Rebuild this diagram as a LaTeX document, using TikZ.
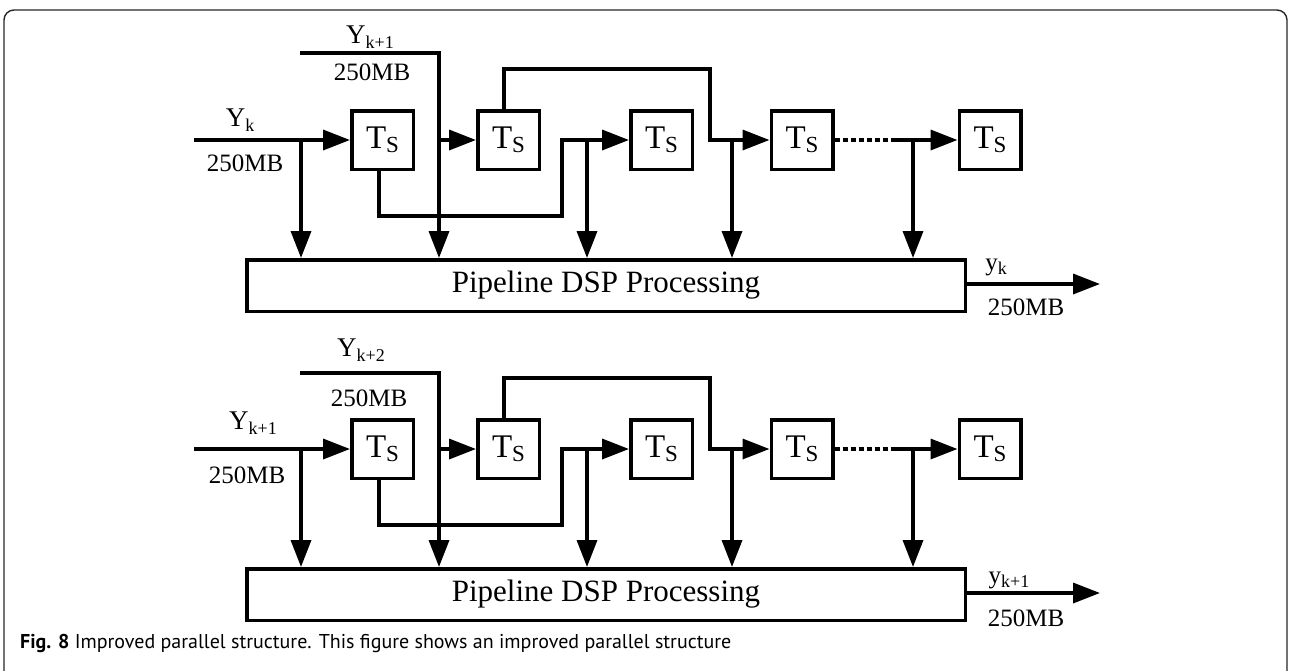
\documentclass[tikz,border=0pt]{standalone}
\usepackage{fontspec}
\setmainfont{Liberation Serif}
\newfontfamily\capfont{PT Sans}
\usetikzlibrary{arrows.meta}
\newcommand{\sbs}[1]{\raisebox{-0.35ex}{\fontsize{18}{18}\selectfont #1}}
\begin{document}
\begin{tikzpicture}[x=1pt,y=-1pt,
  wire/.style={line width=3.5pt},
  arr/.style={wire,-{Triangle[length=27pt,width=20pt]}},
  tsbox/.style={draw,line width=3.5pt,minimum width=61.5pt,minimum height=58.5pt,inner sep=0pt,font=\fontsize{33}{33}\selectfont},
  pipe/.style={draw,line width=3.5pt,minimum width=718.5pt,minimum height=51.5pt,inner sep=0pt,font=\fontsize{31}{31}\selectfont},
  lbl/.style={font=\fontsize{25}{25}\selectfont,inner sep=0pt},
  frame/.style={line width=1.4pt,draw=black!85,rounded corners=10pt}]
\useasboundingbox (0,0) rectangle (1290,670);
\draw[frame] (4,678) -- (4,10) -- (1287,10) -- (1287,678);
\newcommand{\ts}{T\raisebox{-0.25ex}{\fontsize{23}{23}\selectfont S}}
% ---------- two diagrams ----------
\foreach \s/\dy/\da in {A/0/0, B/309/11}{
\begin{scope}[shift={(0,\dy)}]
  \node[tsbox] (b1\s) at (382.5,140) {\ts};
  \node[tsbox] (b2\s) at (508.5,140) {\ts};
  \node[tsbox] (b3\s) at (661.5,140) {\ts};
  \node[tsbox] (b4\s) at (802,140) {\ts};
  \node[tsbox] (b5\s) at (990,140) {\ts};
  \node[pipe] (p\s) at (606,285.5) {Pipeline DSP Processing};
  \coordinate (in\s) at (194,140);
  \coordinate (ja\s) at (301,140);
  \coordinate (s2\s) at (300,53+\da);
  \coordinate (c2\s) at (439,53+\da);
  \coordinate (jb\s) at (439,140);
  \coordinate (r1\s) at (562,216);
  \coordinate (jc\s) at (587,140);
  \coordinate (r2\s) at (710,69);
  \coordinate (jd\s) at (732,140);
  \coordinate (dd\s) at (895,140);
  \coordinate (je\s) at (913,140);
  \coordinate (out\s) at (1100,284);
  \draw[arr] (in\s) -- (b1\s.west);
  \draw[arr] (ja\s) -- (ja\s |- p\s.north);
  \draw[arr] (s2\s) -- (c2\s) -- (c2\s |- p\s.north);
  \draw[arr] (jb\s) -- (b2\s.west);
  \draw[arr] ([xshift=-3.5pt]b1\s.south) |- (r1\s) |- (b3\s.west);
  \draw[arr] (jc\s) -- (jc\s |- p\s.north);
  \draw[arr] ([xshift=-4.5pt]b2\s.north) |- (r2\s) |- (b4\s.west);
  \draw[arr] (jd\s) -- (jd\s |- p\s.north);
  \draw[wire,dash pattern=on 5pt off 3pt] (b4\s.east) -- (dd\s);
  \draw[arr] (dd\s) -- (b5\s.west);
  \draw[arr] (je\s) -- (je\s |- p\s.north);
  \draw[arr] (p\s.east |- out\s) -- (out\s);
\end{scope}
}
% ---------- labels ----------
\node[lbl,font=\fontsize{27}{27}\selectfont] (lyk) at (240,120) {Y\sbs{k}};
\node[lbl] (lmb1) at (245,163) {250MB};
\node[lbl,font=\fontsize{27}{27}\selectfont] (lyk1) at (370,37) {Y\sbs{k+1}};
\node[lbl] (lmb2) at (372,72) {250MB};
\node[lbl] (lyo) at (996,267) {y\sbs{k}};
\node[lbl] (lmb3) at (1026,307) {250MB};
\node[lbl,font=\fontsize{27}{27}\selectfont] (lyk1b) at (253,423) {Y\sbs{k+1}};
\node[lbl] (lmb4) at (247,475) {250MB};
\node[lbl,font=\fontsize{27}{27}\selectfont] (lyk2) at (361,350) {Y\sbs{k+2}};
\node[lbl] (lmb5) at (369,398) {250MB};
\node[lbl] (lyo2) at (1009,580) {y\sbs{k+1}};
\node[lbl] (lmb6) at (1026,618) {250MB};
% ---------- caption ----------
\node[anchor=base west,inner sep=0pt,font=\capfont\fontsize{20}{20}\selectfont] (cap) at (20,648)
  {\textbf{Fig. 8} Improved parallel structure. This figure shows an improved parallel structure};
\end{tikzpicture}
\end{document}
